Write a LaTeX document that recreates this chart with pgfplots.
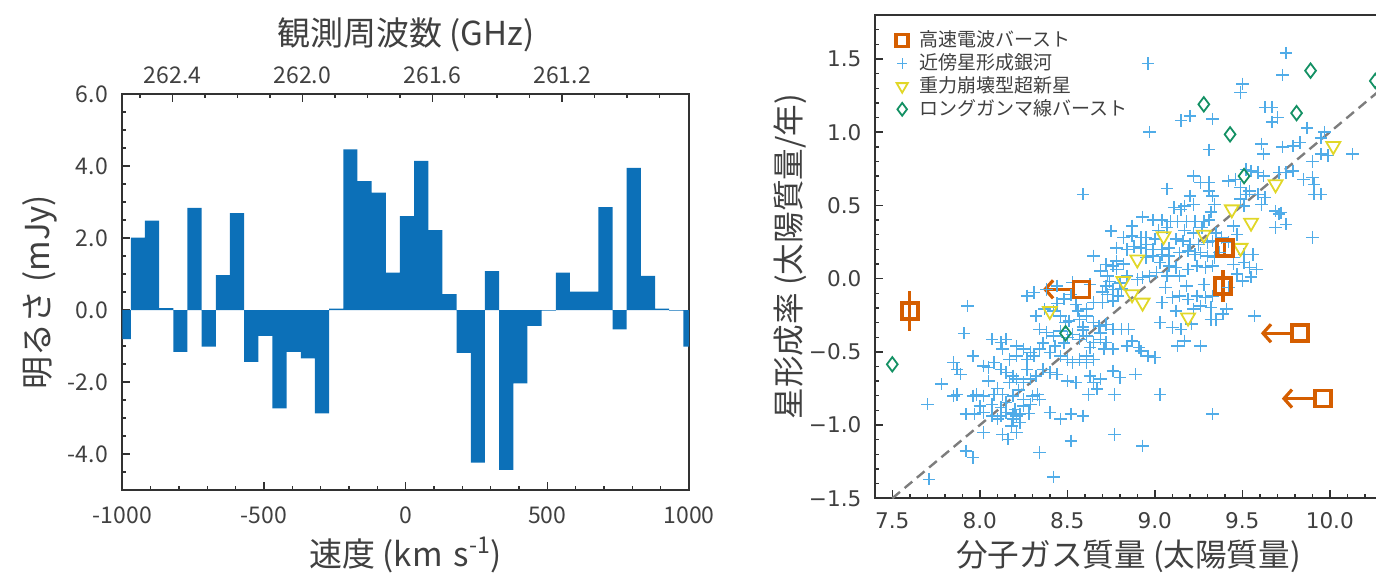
\documentclass[border=0pt]{standalone}
\usepackage{fontspec}
\setmainfont{Noto Sans CJK JP}
\newfontfamily\dejavu{DejaVu Sans}
\usepackage{pgfplots}
\pgfplotsset{compat=1.18}
\usetikzlibrary{arrows.meta}
\definecolor{barblue}{RGB}{12,112,184}
\definecolor{frbcol}{RGB}{213,94,0}
\definecolor{pluscol}{RGB}{80,172,232}
\definecolor{tricol}{RGB}{225,215,40}
\definecolor{diacol}{RGB}{20,145,100}
\definecolor{txt}{RGB}{64,64,64}
\definecolor{frame}{RGB}{50,50,50}
\definecolor{dashgray}{RGB}{125,125,125}

\pgfplotstableread{
x y
8.96 1.47
9.75 1.54
9.73 1.39
9.50 1.33
9.49 1.27
9.63 1.17
9.67 1.17
9.70 1.10
9.67 1.07
9.15 1.08
9.20 1.11
9.33 1.09
8.97 1.00
9.87 1.03
9.97 1.00
9.95 0.96
9.61 0.92
9.73 0.90
9.79 0.905
9.83 0.93
9.62 0.85
9.95 0.85
9.99 0.84
10.13 0.85
9.90 0.80
9.31 0.88
9.22 0.70
9.26 0.655
9.31 0.655
9.31 0.60
9.07 0.614
9.42 0.667
9.46 0.678
9.49 0.621
9.52 0.746
9.55 0.735
9.59 0.724
9.62 0.70
9.71 0.724
9.75 0.724
9.79 0.735
9.85 0.678
9.90 0.69
9.91 0.644
9.54 0.598
9.59 0.576
9.63 0.553
9.61 0.507
9.91 0.576
9.95 0.576
8.59 0.576
9.20 0.564
9.22 0.507
9.17 0.496
9.11 0.485
9.15 0.473
9.33 0.564
9.34 0.507
9.32 0.455
9.49 0.542
9.51 0.496
9.52 0.576
9.69 0.462
9.71 0.44
9.72 0.45
9.75 0.371
9.69 0.348
9.90 0.28
8.99 0.40
9.04 0.40
9.09 0.39
9.13 0.39
9.18 0.39
9.23 0.39
9.28 0.39
9.31 0.40
9.45 0.36
8.75 0.325
8.82 0.28
8.87 0.29
8.92 0.28
8.95 0.28
9.00 0.27
9.12 0.27
9.16 0.257
9.20 0.234
9.25 0.234
9.30 0.246
9.33 0.257
8.78 0.21
8.84 0.20
8.88 0.22
8.92 0.21
8.95 0.234
8.99 0.20
9.04 0.20
9.08 0.21
8.65 0.155
9.14 0.177
9.19 0.19
9.23 0.166
9.26 0.177
9.30 0.155
9.34 0.143
9.45 0.143
9.51 0.166
9.56 0.166
8.95 0.143
8.99 0.155
9.04 0.166
9.08 0.155
8.72 0.098
8.76 0.086
8.69 0.052
8.78 0.064
8.73 0.018
9.03 0.11
9.08 0.086
9.12 0.075
9.01 0.041
9.07 0.018
9.14 0.018
9.19 0.064
9.24 0.086
9.29 0.075
9.33 0.086
9.45 0.098
9.51 0.11
9.54 0.075
9.58 0.064
9.50 -0.016
8.84 0.018
8.90 -0.005
8.93 0.007
8.97 0.018
8.53 -0.027
8.63 -0.039
8.72 -0.05
8.76 -0.073
8.73 -0.107
8.79 -0.118
8.76 -0.152
8.44 -0.05
8.38 -0.073
8.27 -0.118
8.31 -0.096
9.04 -0.164
9.10 -0.13
9.14 -0.118
9.19 -0.141
9.24 -0.118
9.29 -0.13
9.33 -0.118
9.41 -0.209
9.39 -0.243
9.35 -0.278
9.32 -0.278
9.22 -0.209
9.26 -0.187
9.32 -0.198
8.65 -0.164
8.70 -0.164
8.55 -0.175
8.61 -0.209
8.32 -0.255
8.37 -0.209
8.42 -0.221
7.93 -0.187
8.46 -0.255
8.51 -0.289
8.57 -0.278
8.61 -0.255
8.65 -0.30
8.68 -0.323
8.72 -0.312
8.76 -0.346
8.81 -0.346
8.85 -0.346
9.03 -0.30
9.10 -0.334
9.15 -0.346
9.21 -0.31
9.57 -0.255
8.34 -0.346
8.38 -0.369
8.42 -0.391
8.46 -0.357
8.50 -0.403
8.53 -0.38
8.57 -0.414
8.61 -0.391
8.65 -0.437
8.69 -0.414
7.91 -0.373
8.72 -0.437
8.76 -0.482
8.71 -0.482
8.84 -0.46
8.87 -0.425
8.91 -0.471
8.92 -0.494
8.96 -0.528
9.00 -0.539
9.13 -0.46
9.17 -0.425
9.26 -0.46
8.07 -0.414
8.12 -0.437
8.15 -0.414
8.21 -0.46
8.25 -0.482
8.29 -0.505
8.13 -0.482
8.17 -0.551
8.21 -0.528
8.27 -0.551
8.31 -0.528
8.34 -0.482
8.40 -0.505
8.46 -0.528
8.50 -0.551
8.53 -0.573
8.57 -0.551
8.61 -0.528
8.65 -0.551
7.96 -0.528
7.85 -0.573
7.87 -0.619
7.89 -0.653
8.02 -0.596
8.05 -0.607
8.08 -0.573
8.12 -0.619
8.15 -0.642
8.19 -0.664
8.17 -0.71
8.21 -0.687
8.25 -0.71
8.29 -0.687
8.32 -0.664
8.36 -0.619
8.40 -0.642
8.44 -0.653
8.50 -0.699
8.55 -0.71
8.61 -0.573
8.63 -0.664
8.65 -0.71
8.69 -0.687
8.76 -0.63
8.80 -0.676
8.89 -0.653
7.78 -0.721
7.85 -0.80
7.87 -0.79
7.96 -0.80
7.98 -0.79
8.02 -0.80
8.08 -0.79
8.13 -0.79
8.19 -0.80
8.25 -0.824
8.30 -0.80
8.33 -0.79
7.70 -0.858
8.07 -0.858
8.12 -0.88
8.15 -0.846
8.20 -0.892
8.25 -0.869
8.29 -0.858
8.34 -0.824
8.62 -0.79
8.67 -0.755
8.77 -0.79
9.03 -0.79
7.92 -0.926
7.97 -0.926
8.02 -0.915
8.07 -0.937
8.12 -0.937
8.15 -0.915
8.19 -0.926
8.23 -0.926
8.19 -0.96
8.23 -0.983
8.18 -1.006
8.21 -0.937
8.40 -0.915
8.46 -0.96
8.52 -0.926
8.59 -0.937
9.33 -0.926
8.02 -1.05
8.13 -1.063
8.16 -1.097
8.21 -1.05
8.52 -1.108
8.77 -1.063
8.93 -1.142
7.92 -1.176
7.96 -1.222
8.34 -1.188
7.71 -1.37
8.42 -1.354
9.02 0.33
9.07 0.35
9.17 0.33
9.22 0.31
9.27 0.35
9.35 0.31
9.38 0.28
9.42 0.25
9.47 0.30
9.37 0.18
8.74 -0.02
8.80 -0.03
8.70 -0.09
8.81 -0.07
8.78 0.12
8.82 0.10
8.48 -0.14
8.52 -0.11
8.56 -0.22
8.44 -0.17
8.49 -0.30
8.59 -0.33
8.05 -0.70
8.10 -0.75
8.22 -0.76
8.27 -0.62
8.00 -0.87
8.10 -0.96
8.28 -0.92
9.47 0.03
9.42 -0.06
9.55 0.01
9.06 -0.06
9.12 -0.22
9.18 -0.05
9.28 -0.04
8.87 0.36
8.93 0.42
8.36 -0.44
8.43 -0.46
8.48 -0.44
8.59 -0.35
8.63 -0.47
8.69 -0.37
}\plusdata

\pgfplotstableread{
x y
10.02 0.905
9.69 0.644
9.44 0.473
9.55 0.382
9.05 0.29
9.28 0.30
9.49 0.21
8.90 0.13
8.82 -0.016
8.87 -0.107
8.93 -0.164
8.40 -0.221
9.19 -0.266
}\tridata

\pgfplotstableread{
x y
7.50 -0.585
8.49 -0.373
9.51 0.70
9.43 0.985
9.28 1.19
9.81 1.13
9.89 1.42
10.26 1.35
}\diadata

\pgfplotstableread{
x y e
7.60 -0.221 0.137
9.40 0.21 0.05
9.39 -0.05 0.11
8.58 -0.073 0
9.83 -0.373 0
9.96 -0.819 0
}\frbdata

\pgfplotstableread{
x y u
8.531 -0.073 -0.17
9.781 -0.373 -0.175
9.911 -0.819 -0.185
}\frbarrow

\begin{document}
\begin{tikzpicture}
\path[use as bounding box] (0,0) rectangle (688pt,287.5pt);

% ---------- left panel: velocity axis ----------
\begin{axis}[
  at={(61.15pt,42.5pt)}, anchor=south west, scale only axis,
  width=283.35pt, height=198pt,
  xmin=-1000, xmax=1000, ymin=-5, ymax=6,
  xtick={-1000,-500,0,500,1000}, xticklabels={-1000,-500,0,500,1000},
  minor xtick={-1000,-900,...,1000},
  ytick={-4,-2,0,2,4,6}, yticklabels={-4.0,-2.0,0.0,2.0,4.0,6.0},
  minor ytick={-5,-4.5,...,6},
  xtick pos=bottom, ytick pos=left, tick align=inside,
  major tick length=4pt, minor tick length=2pt,
  axis line style={frame, line width=0.9pt},
  tick style={frame, line width=0.7pt},
  ticklabel style={font=\fontsize{11.5}{13}\selectfont, text=txt},
  xticklabel style={anchor=center, yshift=-12.5pt},
  yticklabel style={anchor=east, inner sep=0pt, xshift=-7pt},
  xlabel={速度 (km\,\,s\textsuperscript{-1})},
  ylabel={明るさ (mJy)},
  every axis x label/.style={at={(rel axis cs:0.5,0)}, anchor=center, yshift=-32.5pt, font=\fontsize{16.5}{19}\selectfont, text=txt},
  every axis y label/.style={at={(rel axis cs:0,0.5)}, xshift=-41pt, rotate=90, anchor=center, font=\fontsize{16.5}{19}\selectfont, text=txt},
]
\addplot[const plot, fill=barblue, draw=none] coordinates {
(-1000,-0.81) (-970,2.01) (-920,2.48) (-870,0.05) (-820,-1.16) (-770,2.84)
(-720,-1.02) (-670,0.97) (-620,2.69) (-570,-1.44) (-520,-0.72) (-470,-2.73)
(-420,-1.16) (-370,-1.34) (-320,-2.87) (-270,0.04) (-220,4.46) (-170,3.58)
(-120,3.26) (-70,1.04) (-20,2.61) (30,4.14) (80,2.22) (130,0.44) (180,-1.19)
(230,-4.24) (280,1.08) (330,-4.44) (380,-2.04) (430,-0.44) (480,-0.02)
(530,1.04) (580,0.51) (630,0.51) (680,2.86) (730,-0.54) (780,3.95) (830,0.95)
(880,0.04) (930,-0.02) (980,-1.02) (1000,-1.02)} \closedcycle;
\end{axis}

% ---------- left panel: frequency axis on top ----------
\begin{axis}[
  at={(61.15pt,42.5pt)}, anchor=south west, scale only axis,
  width=283.35pt, height=198pt,
  xmin=260.809, xmax=262.555, x dir=reverse, ymin=0, ymax=1,
  axis x line*=top, axis y line=none,
  xtick={261.2,261.6,262.0,262.4}, xticklabels={261.2,261.6,262.0,262.4},
  minor xtick={260.9,261.0,...,262.5},
  tick align=inside, major tick length=4pt, minor tick length=2pt,
  axis line style={frame, line width=0.9pt},
  tick style={frame, line width=0.7pt},
  ticklabel style={font=\fontsize{11.5}{13}\selectfont, text=txt},
  xticklabel style={anchor=center, yshift=9.5pt},
  xlabel={観測周波数 (GHz)},
  every axis x label/.style={at={(rel axis cs:0.5,1)}, anchor=center, yshift=29.5pt, font=\fontsize{16.5}{19}\selectfont, text=txt},
]
\end{axis}

% ---------- right panel ----------
\begin{axis}[
  at={(437.4pt,38.35pt)}, anchor=south west, scale only axis,
  width=253.75pt, height=241.65pt,
  xmin=7.4, xmax=10.3, ymin=-1.5, ymax=1.8,
  xtick={7.5,8,8.5,9,9.5,10}, xticklabels={7.5,8.0,8.5,9.0,9.5,10.0},
  minor xtick={7.4,7.5,...,10.3},
  ytick={-1.5,-1,-0.5,0,0.5,1,1.5}, yticklabels={−1.5,−1.0,−0.5,0.0,0.5,1.0,1.5},
  minor ytick={-1.5,-1.4,...,1.8},
  xtick pos=bottom, ytick pos=left, tick align=inside,
  major tick length=4pt, minor tick length=2pt,
  axis line style={frame, line width=0.9pt},
  tick style={frame, line width=0.7pt},
  ticklabel style={font=\dejavu\fontsize{10.8}{12}\selectfont, text=txt},
  xticklabel style={anchor=center, yshift=-11pt},
  yticklabel style={anchor=east, inner sep=0pt, xshift=-6.5pt},
  xlabel={分子ガス質量 (太陽質量)},
  ylabel={星形成率 (太陽質量/年)},
  every axis x label/.style={at={(rel axis cs:0.5,0)}, anchor=center, yshift=-29pt, font=\fontsize{15.8}{18}\selectfont, text=txt},
  every axis y label/.style={at={(rel axis cs:0,0.5)}, xshift=-42.5pt, rotate=90, anchor=center, font=\fontsize{15.8}{18}\selectfont, text=txt},
  legend style={at={(rel axis cs:0,1)}, anchor=north west, xshift=7.5pt, yshift=-4.75pt,
    draw=none, fill=none, font=\fontsize{9.5}{11}\selectfont, text=txt,
    row sep=0pt, column sep=4.5pt, nodes={inner sep=1pt}},
  legend cell align=left,
]
\addlegendimage{only marks, mark=square, mark size=3pt, frbcol, line width=1.8pt}
\addlegendentry{高速電波バースト}
\addlegendimage{only marks, mark=+, mark size=2.6pt, pluscol, line width=0.6pt}
\addlegendentry{近傍星形成銀河}
\addlegendimage{only marks, mark=triangle, mark size=3.2pt, mark options={rotate=180}, tricol, line width=0.9pt}
\addlegendentry{重力崩壊型超新星}
\addlegendimage{only marks, mark=diamond, mark size=3.2pt, diacol, line width=0.9pt}
\addlegendentry{ロングガンマ線バースト}

\addplot[only marks, mark=+, mark size=3.1pt, pluscol, line width=0.75pt, forget plot] table[x=x,y=y] {\plusdata};
\addplot[dashgray, line width=1.2pt, dash pattern=on 5pt off 3pt, forget plot] coordinates {(7.5,-1.5) (10.3,1.3)};
\addplot[only marks, mark=triangle, mark size=4pt, mark options={rotate=180}, tricol, line width=0.9pt, forget plot] table[x=x,y=y] {\tridata};
\addplot[only marks, mark=diamond, mark size=3.6pt, diacol, line width=0.9pt, forget plot] table[x=x,y=y] {\diadata};
\addplot[frbcol, line width=1.6pt, -{Straight Barb[length=4pt,width=9pt]}, quiver={u=\thisrow{u}, v=0}, forget plot] table[x=x,y=y] {\frbarrow};
\addplot[only marks, mark=square, mark size=4pt, frbcol, line width=1.8pt, forget plot,
  error bars/.cd, y dir=both, y explicit, error mark=none,
  error bar style={line width=1.6pt, frbcol}] table[x=x,y=y,y error=e] {\frbdata};
\end{axis}
\end{tikzpicture}
\end{document}
